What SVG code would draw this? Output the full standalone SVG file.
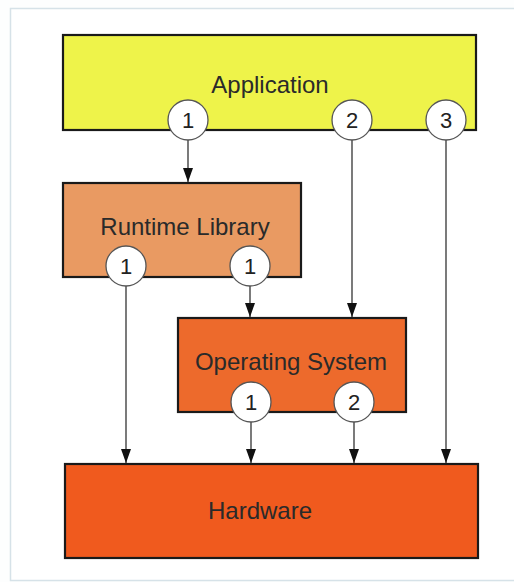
<svg xmlns="http://www.w3.org/2000/svg" width="514" height="582" viewBox="0 0 514 582">
<defs>
<marker id="ah" viewBox="0 0 14 10" refX="14" refY="5" markerWidth="14" markerHeight="10" markerUnits="userSpaceOnUse" orient="auto">
<path d="M0,0 L14,5 L0,10 Z" fill="#111"/>
</marker>
<style>
.box{stroke:#1a1a1a;stroke-width:2.2}
.lbl{font-family:"Liberation Sans",Arial,sans-serif;font-size:24px;fill:#2a2a2a;text-anchor:middle}
.num{font-family:"Liberation Sans",Arial,sans-serif;font-size:22px;fill:#222;text-anchor:middle}
.cir{fill:#fff;stroke:#555;stroke-width:1.3}
.con{stroke:#333;stroke-width:1.3;fill:none}
</style>
</defs>
<rect x="0" y="0" width="514" height="582" fill="#fdfefe"/>
<rect x="10.5" y="8.5" width="530" height="572" fill="#ffffff" stroke="#d6e2e8" stroke-width="1.5"/>
<g id="connectors">
<line class="con" x1="188" y1="140" x2="188" y2="182" marker-end="url(#ah)"/>
<line class="con" x1="352" y1="140" x2="352" y2="317" marker-end="url(#ah)"/>
<line class="con" x1="446" y1="140" x2="446" y2="463" marker-end="url(#ah)"/>
<line class="con" x1="126" y1="286" x2="126" y2="463" marker-end="url(#ah)"/>
<line class="con" x1="250" y1="286" x2="250" y2="317" marker-end="url(#ah)"/>
<line class="con" x1="251" y1="422" x2="251" y2="463" marker-end="url(#ah)"/>
<line class="con" x1="354" y1="422" x2="354" y2="463" marker-end="url(#ah)"/>
</g>
<g id="application">
<rect class="box" x="63" y="35" width="413" height="95" fill="#eef34a"/>
<text class="lbl" x="270" y="93">Application</text>
<circle class="cir" cx="188" cy="120" r="20"/><text class="num" x="188" y="128">1</text>
<circle class="cir" cx="352" cy="120" r="20"/><text class="num" x="352" y="128">2</text>
<circle class="cir" cx="446" cy="120" r="20"/><text class="num" x="446" y="128">3</text>
</g>
<g id="runtime-library">
<rect class="box" x="63" y="183" width="238" height="94" fill="#e99a62"/>
<text class="lbl" x="185" y="235">Runtime Library</text>
<circle class="cir" cx="126" cy="266" r="20"/><text class="num" x="126" y="274">1</text>
<circle class="cir" cx="250" cy="266" r="20"/><text class="num" x="250" y="274">1</text>
</g>
<g id="operating-system">
<rect class="box" x="178" y="318" width="228" height="94" fill="#ed6a2c"/>
<text class="lbl" x="291" y="370">Operating System</text>
<circle class="cir" cx="251" cy="402" r="20"/><text class="num" x="251" y="410">1</text>
<circle class="cir" cx="354" cy="402" r="20"/><text class="num" x="354" y="410">2</text>
</g>
<g id="hardware">
<rect class="box" x="65" y="464" width="413" height="94" fill="#f05a1e"/>
<text class="lbl" x="260" y="519">Hardware</text>
</g>
</svg>
